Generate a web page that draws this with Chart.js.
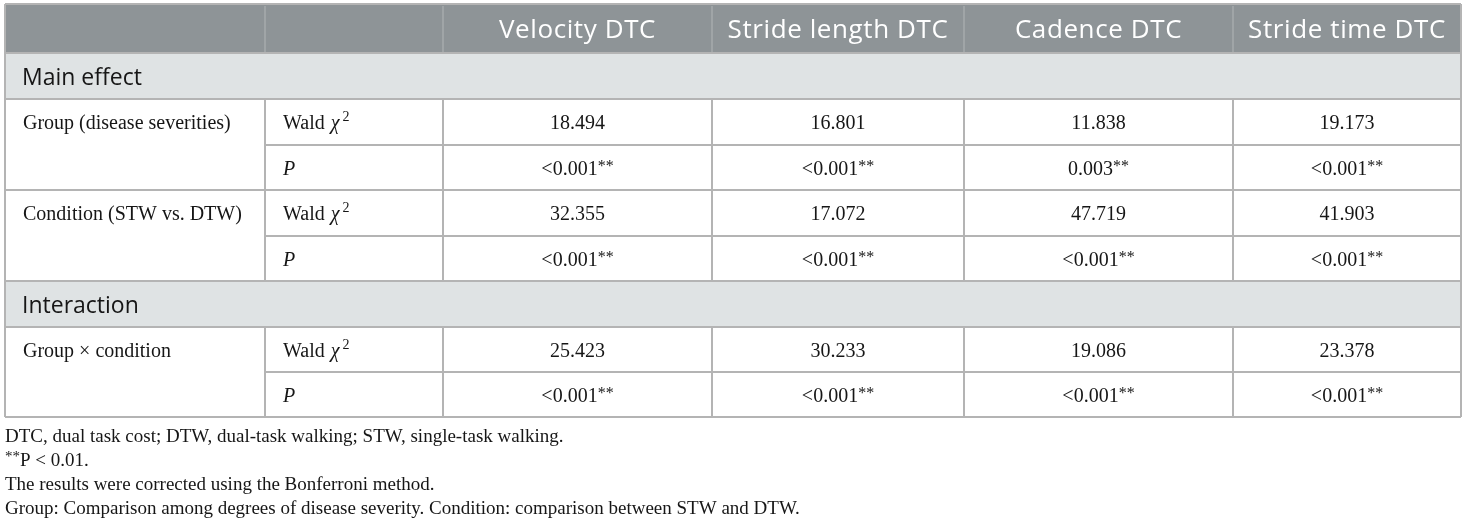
<!DOCTYPE html>
<html>
<head>
<meta charset="utf-8">
<script src="https://cdn.jsdelivr.net/npm/chart.js@4.4.1/dist/chart.umd.min.js"></script>
<style>
html,body{margin:0;padding:0;background:#fff;}
canvas{display:block;}
</style>
</head>
<body>
<canvas id="c" width="1467" height="531" style="width:1467px;height:531px"></canvas>
<script>
// ---- data ----
const columns = ["Velocity DTC", "Stride length DTC", "Cadence DTC", "Stride time DTC"];
const sections = ["Main effect", "Interaction"];
const effects = ["Group (disease severities)", "Condition (STW vs. DTW)", "Group \u00d7 condition"];
const statLabels = ["Wald", "P"];
const velocityDTC     = ["18.494", "<0.001**", "32.355", "<0.001**", "25.423", "<0.001**"];
const strideLengthDTC = ["16.801", "<0.001**", "17.072", "<0.001**", "30.233", "<0.001**"];
const cadenceDTC      = ["11.838", "0.003**",  "47.719", "<0.001**", "19.086", "<0.001**"];
const strideTimeDTC   = ["19.173", "<0.001**", "41.903", "<0.001**", "23.378", "<0.001**"];
const footnotes = [
  "DTC, dual task cost; DTW, dual-task walking; STW, single-task walking.",
  "**P < 0.01.",
  "The results were corrected using the Bonferroni method.",
  "Group: Comparison among degrees of disease severity. Condition: comparison between STW and DTW."
];

// ---- layout (scale units) ----
const colEdges = [5, 265, 443, 712, 964, 1233, 1461];
const rowEdges = [4, 53, 99, 145, 190, 236, 281, 327, 372, 417];
const footBase = [442, 466, 490, 514];
const rowKinds = ["header", "section", "body", "body", "body", "body", "section", "body", "body"];

const valueCols = [velocityDTC, strideLengthDTC, cadenceDTC, strideTimeDTC];

const SANS = '"Open Sans", "Noto Sans", sans-serif';
const SERIF = '"Liberation Serif", "DejaVu Serif", serif';

function drawRich(ctx, parts, x, y, align, spacing) {
  ctx.letterSpacing = (spacing || 0) + 'px';
  let total = 0;
  parts.forEach(p => { ctx.font = p.font; p.w = ctx.measureText(p.text).width; total += p.w + (p.gap || 0); });
  let cx = align === 'center' ? x - total / 2 : x;
  parts.forEach(p => {
    ctx.font = p.font;
    ctx.fillStyle = p.color || '#161616';
    ctx.textAlign = 'left';
    ctx.textBaseline = 'alphabetic';
    ctx.fillText(p.text, cx + (p.gap || 0), y + (p.dy || 0));
    cx += p.w + (p.gap || 0);
  });
  ctx.letterSpacing = '0px';
}

function valueParts(v) {
  const m = v.match(/^(.*?)(\*+)$/);
  if (m) {
    return [
      { text: m[1], font: '20px ' + SERIF },
      { text: m[2], font: '16px ' + SERIF, dy: -4 }
    ];
  }
  return [{ text: v, font: '20px ' + SERIF }];
}

const tablePlugin = {
  id: 'tablePlugin',
  afterDraw(chart) {
    const ctx = chart.ctx;
    const xs = chart.scales.x, ys = chart.scales.y;
    const X = v => xs.getPixelForValue(v);
    const Y = v => ys.getPixelForValue(v);
    const left = X(colEdges[0]), right = X(colEdges[colEdges.length - 1]);
    ctx.save();

    rowKinds.forEach((k, r) => {
      const y0 = Y(rowEdges[r]), y1 = Y(rowEdges[r + 1]);
      if (k === 'header') { ctx.fillStyle = '#8e9497'; ctx.fillRect(left, y0, right - left, y1 - y0); }
      if (k === 'section') { ctx.fillStyle = '#dfe3e4'; ctx.fillRect(left, y0, right - left, y1 - y0); }
    });

    ctx.strokeStyle = '#a6abad';
    ctx.lineWidth = 1.5;
    for (let c = 1; c < colEdges.length - 1; c++) {
      ctx.beginPath();
      ctx.moveTo(X(colEdges[c]), Y(rowEdges[0]) + 2);
      ctx.lineTo(X(colEdges[c]), Y(rowEdges[1]));
      ctx.stroke();
    }

    ctx.strokeStyle = '#b4b4b4';
    ctx.lineWidth = 2;
    for (let r = 0; r < rowEdges.length; r++) {
      const y = Y(rowEdges[r]);
      let x0 = left;
      if ((r === 3 || r === 5 || r === 8)) x0 = X(colEdges[1]);
      ctx.beginPath(); ctx.moveTo(x0, y); ctx.lineTo(right, y); ctx.stroke();
    }
    ctx.beginPath(); ctx.moveTo(left, Y(rowEdges[0])); ctx.lineTo(left, Y(rowEdges[rowEdges.length - 1])); ctx.stroke();
    ctx.beginPath(); ctx.moveTo(right, Y(rowEdges[0])); ctx.lineTo(right, Y(rowEdges[rowEdges.length - 1])); ctx.stroke();
    rowKinds.forEach((k, r) => {
      if (k !== 'body') return;
      for (let c = 1; c < colEdges.length - 1; c++) {
        ctx.beginPath();
        ctx.moveTo(X(colEdges[c]), Y(rowEdges[r]));
        ctx.lineTo(X(colEdges[c]), Y(rowEdges[r + 1]));
        ctx.stroke();
      }
    });

    columns.forEach((t, i) => {
      const cx = (X(colEdges[i + 2]) + X(colEdges[i + 3])) / 2;
      const cy = (Y(rowEdges[0]) + Y(rowEdges[1])) / 2;
      drawRich(ctx, [{ text: t, font: '400 26px ' + SANS, color: '#ffffff' }], cx, cy + 9.5, 'center', 0.6);
    });

    let sIdx = 0, eIdx = 0, bodyCount = 0;
    rowKinds.forEach((k, r) => {
      const y0 = Y(rowEdges[r]), y1 = Y(rowEdges[r + 1]);
      const cy = (y0 + y1) / 2;
      if (k === 'section') {
        drawRich(ctx, [{ text: sections[sIdx++], font: '23px ' + SANS, color: '#161616' }], X(colEdges[0]) + 17, cy + 8.5, 'left');
      }
      if (k === 'body') {
        const sub = bodyCount % 2;
        if (sub === 0) {
          drawRich(ctx, [{ text: effects[eIdx++], font: '20px ' + SERIF }], X(colEdges[0]) + 18, cy + 7, 'left');
          drawRich(ctx, [
            { text: statLabels[0], font: '20px ' + SERIF },
            { text: '\u03c7', font: 'italic 20px ' + SERIF, gap: 6 },
            { text: '2', font: '14px ' + SERIF, dy: -8, gap: 3 }
          ], X(colEdges[1]) + 18, cy + 7, 'left');
        } else {
          drawRich(ctx, [{ text: statLabels[1], font: 'italic 20px ' + SERIF }], X(colEdges[1]) + 18, cy + 7, 'left');
        }
        valueCols.forEach((arr, c) => {
          const cx = (X(colEdges[c + 2]) + X(colEdges[c + 3])) / 2;
          drawRich(ctx, valueParts(arr[bodyCount]), cx, cy + 7, 'center');
        });
        bodyCount++;
      }
    });

    footnotes.forEach((t, i) => {
      const y = Y(footBase[i]);
      if (t.startsWith('**')) {
        drawRich(ctx, [
          { text: '**', font: '15px ' + SERIF, dy: -5 },
          { text: t.slice(2), font: '19px ' + SERIF }
        ], X(colEdges[0]), y, 'left');
      } else {
        drawRich(ctx, [{ text: t, font: '19px ' + SERIF }], X(colEdges[0]), y, 'left');
      }
    });
    ctx.restore();
  }
};

new Chart(document.getElementById('c'), {
  type: 'scatter',
  data: { datasets: [{ data: [], pointRadius: 0 }] },
  options: {
    responsive: false,
    animation: false,
    events: [],
    layout: { padding: 0 },
    plugins: { legend: { display: false }, tooltip: { enabled: false }, title: { display: false } },
    scales: {
      x: { type: 'linear', min: 0, max: 1467, display: false },
      y: { type: 'linear', min: 0, max: 531, reverse: true, display: false }
    }
  },
  plugins: [tablePlugin]
});
</script>
</body>
</html>
